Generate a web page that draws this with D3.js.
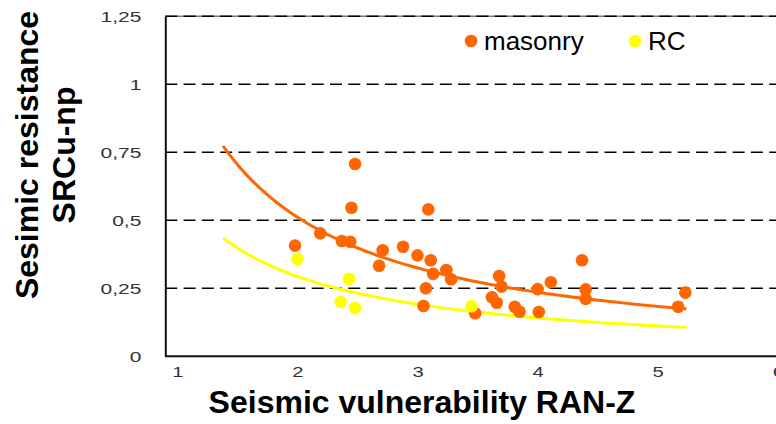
<!DOCTYPE html>
<html>
<head>
<meta charset="utf-8">
<script src="https://cdn.jsdelivr.net/npm/d3@7"></script>
<style>
  body { margin: 0; background: #fff; }
  text { font-family: "Liberation Sans", Arial, sans-serif; }
</style>
</head>
<body>
<div id="chart"></div>
<script>
// masonry points [RAN-Z, SRCu-np]
const masonry = [
    [1.98, 0.407], [2.19, 0.452], [2.37, 0.424], [2.44, 0.421], [2.45, 0.546],
    [2.48, 0.707], [2.71, 0.390], [2.68, 0.333], [2.88, 0.403], [3.00, 0.371],
    [3.09, 0.540], [3.11, 0.353], [3.13, 0.303], [3.24, 0.317], [3.28, 0.283],
    [3.07, 0.250], [3.05, 0.185], [3.48, 0.158], [3.68, 0.295], [3.70, 0.256],
    [3.62, 0.217], [3.66, 0.197], [3.81, 0.182], [3.85, 0.164], [4.00, 0.247],
    [4.01, 0.163], [4.11, 0.272], [4.37, 0.353], [4.40, 0.246], [4.40, 0.211],
    [5.17, 0.182], [5.23, 0.234]
];
// RC points
const rc = [
    [2.00, 0.358], [2.43, 0.285], [2.36, 0.200], [2.48, 0.178], [3.45, 0.184]
];
const seriesNames = ["masonry", "RC"];
const seriesColors = ["#ff6600", "#ffff00"];
const xTicks = [1, 2, 3, 4, 5, 6];
const yTicks = [0, 0.25, 0.5, 0.75, 1, 1.25];
const trendRange = [1.38, 5.24];   // extent of the fitted curves

const width = 776, height = 424;

const x = d3.scaleLinear().domain([0.9, 6]).range([165.3, 777.8]);
const y = d3.scaleLinear().domain([0, 1.25]).range([356.3, 16.3]);

const svg = d3.select("#chart")
    .append("svg")
    .attr("width", width)
    .attr("height", height);

// plot top border + dashed grid
svg.append("line")
    .attr("x1", x(0.9)).attr("x2", width)
    .attr("y1", y(1.25)).attr("y2", y(1.25))
    .attr("stroke", "#777")
    .attr("stroke-width", 1.5);
svg.append("g")
    .selectAll("line")
    .data(yTicks.filter(d => d > 0))
    .enter()
    .append("line")
    .attr("x1", x(0.9)).attr("x2", width)
    .attr("y1", d => y(d)).attr("y2", d => y(d))
    .attr("stroke", "#000")
    .attr("stroke-width", 1.5)
    .attr("stroke-dasharray", "12,6.3");

// y axis
const yAxis = svg.append("g")
    .attr("transform", `translate(${x(0.9)},0)`)
    .call(d3.axisLeft(y).tickValues(yTicks).tickSize(0).tickPadding(0)
        .tickFormat(d => d3.format(".2~f")(d).replace(".", ",")));
yAxis.select(".domain").attr("stroke", "#111").attr("stroke-width", 2);
yAxis.selectAll("text")
    .attr("font-size", 15)
    .attr("fill", "#333")
    .attr("x", -24 / 1.4)
    .attr("transform", "scale(1.4,1)")
    .attr("dy", "0.35em");

// x axis
const xAxis = svg.append("g")
    .attr("transform", `translate(0,${y(0)})`)
    .call(d3.axisBottom(x).tickValues(xTicks).tickSize(0).tickPadding(0)
        .tickFormat(d3.format("d")));
xAxis.select(".domain").attr("stroke", "#111").attr("stroke-width", 2)
    .attr("d", `M${x(0.9)},0H${width}`);
xAxis.selectAll("text")
    .attr("font-size", 15)
    .attr("fill", "#333")
    .attr("y", 21)
    .attr("dy", 0)
    .attr("transform", "scale(1.35,1)");

// power trendline fit, least squares on log-log
function powerFit(pts) {
    const lx = pts.map(p => Math.log(p[0]));
    const ly = pts.map(p => Math.log(p[1]));
    const mx = d3.mean(lx), my = d3.mean(ly);
    const b = d3.sum(lx, (v, i) => (v - mx) * (ly[i] - my)) / d3.sum(lx, v => (v - mx) * (v - mx));
    const a = Math.exp(my - b * mx);
    return v => a * Math.pow(v, b);
}

const line = d3.line()
    .x(d => x(d[0]))
    .y(d => y(d[1]))
    .curve(d3.curveBasis);

[masonry, rc].forEach(function (data, i) {
    const f = powerFit(data);
    const xs = d3.range(trendRange[0], trendRange[1] + 0.001, (trendRange[1] - trendRange[0]) / 60);
    svg.append("path")
        .datum(xs.map(v => [v, f(v)]))
        .attr("d", line)
        .attr("fill", "none")
        .attr("stroke", seriesColors[i])
        .attr("stroke-width", 3);
});

// points
[masonry, rc].forEach(function (data, i) {
    svg.append("g")
        .selectAll("circle")
        .data(data)
        .enter()
        .append("circle")
        .attr("cx", d => x(d[0]))
        .attr("cy", d => y(d[1]))
        .attr("r", 6.3)
        .attr("fill", seriesColors[i]);
});

// legend
const legendX = [471, 635];
const legend = svg.append("g");
seriesNames.forEach(function (name, i) {
    legend.append("circle")
        .attr("cx", legendX[i]).attr("cy", 41)
        .attr("r", 6.3)
        .attr("fill", seriesColors[i]);
    legend.append("text")
        .attr("x", legendX[i] + 13).attr("y", 50)
        .attr("font-size", 26)
        .attr("fill", "#000")
        .text(name);
});

// axis titles
svg.append("text")
    .attr("transform", "translate(38,155) rotate(-90)")
    .attr("text-anchor", "middle")
    .attr("font-size", 32)
    .attr("font-weight", "bold")
    .text("Sesimic resistance");
svg.append("text")
    .attr("transform", "translate(75,155) rotate(-90)")
    .attr("text-anchor", "middle")
    .attr("font-size", 32)
    .attr("font-weight", "bold")
    .text("SRCu-np");
svg.append("text")
    .attr("x", 422).attr("y", 413)
    .attr("text-anchor", "middle")
    .attr("font-size", 32)
    .attr("font-weight", "bold")
    .text("Seismic vulnerability RAN-Z");
</script>
</body>
</html>
